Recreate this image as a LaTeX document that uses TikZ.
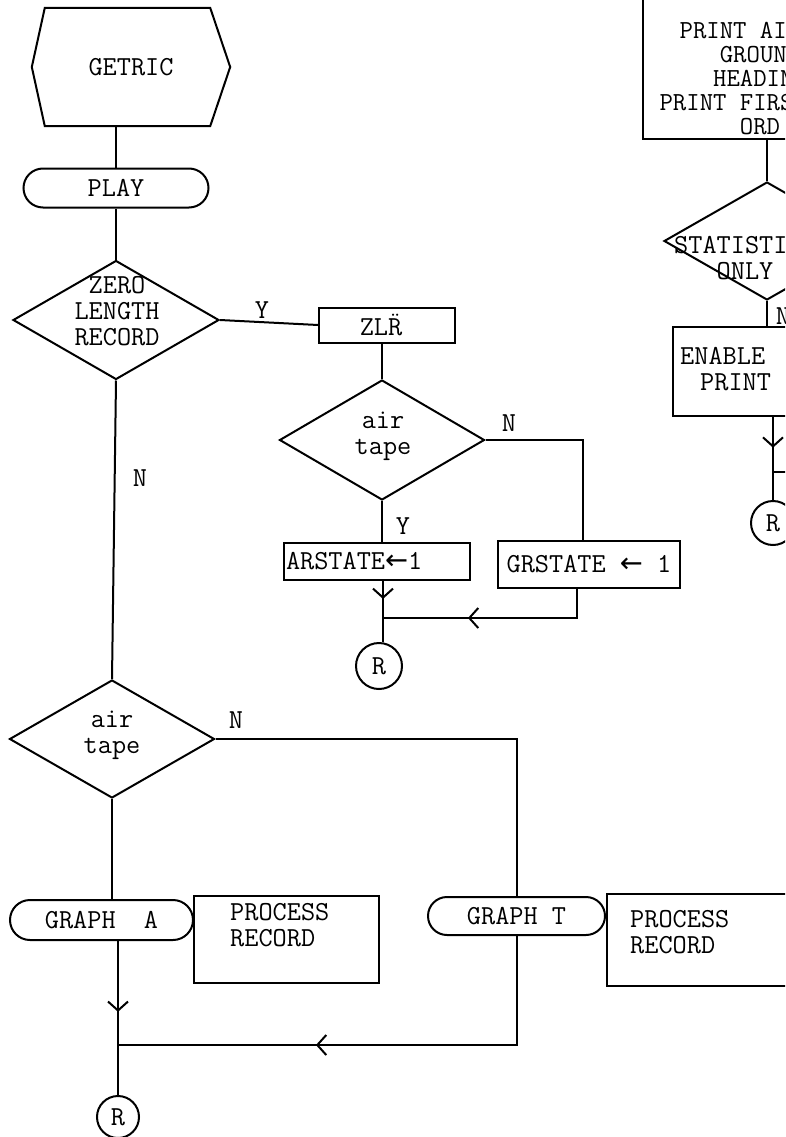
\documentclass[tikz,border=0pt]{standalone}
\usepackage{fontspec}
\newfontfamily\arrowfont{DejaVu Sans}
\usetikzlibrary{shapes.geometric,shapes.misc,arrows.meta,decorations.markings}

\newcommand{\asgn}{{\arrowfont ←}}

\tikzset{
  every node/.style={font=\ttfamily\fontsize{27.5}{26}\selectfont, inner sep=0pt},
  ln/.style={line width=2pt},
  procbox/.style={draw, line width=2pt, rectangle},
  termbox/.style={draw, line width=2pt, rounded rectangle},
  decbox/.style={draw, line width=2pt, diamond, inner sep=0pt},
  connbox/.style={draw, line width=2pt, circle},
  barb/.style={postaction={decorate}, decoration={markings,
      mark=at position #1 with {\arrow{Straight Barb[length=9pt,width=20pt,line width=2pt]}}}},
}

\begin{document}
\begin{tikzpicture}[x=1pt,y=-1pt]
\useasboundingbox (0,0) rectangle (785,1137);
\clip (0,0) rectangle (785,1137);
\fill[white] (0,0) rectangle (785,1137);

% ---------------- left column: entry and zero-length test
\node[minimum width=198pt, minimum height=118pt] (getric) at (131,67) {GETRIC};
\draw[ln] (getric.west) -- ([xshift=13pt]getric.north west)
  -- ([xshift=-20pt]getric.north east) -- (getric.east)
  -- ([xshift=-20pt]getric.south east) -- ([xshift=13pt]getric.south west) -- cycle;

\node[termbox, minimum width=185pt, minimum height=39pt] (play) at (116,188) {PLAY};
\node[decbox, minimum width=206pt, minimum height=119pt] (zero) at (116,320) {};
\node[align=center] (zerotxt) at (117,311) {ZERO\\LENGTH\\RECORD};

\draw[ln] (play.north) -- (play.north |- getric.south);
\draw[ln] (play.south) -- (zero.north);

% ---------------- zero-length record branch
\node[procbox, minimum width=136pt, minimum height=35pt] (zlr) at (387,325) {ZL\accent"A8 R\hspace*{12pt}};
\node (ylab1) at (262,310) {Y};
\draw[ln] (zero.east) -- (zlr.west);

\node[decbox, minimum width=205pt, minimum height=120pt] (air1) at (382,440) {};
\node[align=center] (air1txt) at (383,436) {air\\tape};
\draw[ln] (air1.north) -- (air1.north |- zlr.south);

\node[procbox, minimum width=186pt, minimum height=37pt, text width=182pt, align=left] (ars) at (377,561) {ARSTATE\asgn1};
\node[procbox, minimum width=182pt, minimum height=47pt] (grs) at (589,564) {GRSTATE \asgn{} 1};
\node (ylab2) at (403,526) {Y};
\node (nlab1) at (509,423) {N};
\draw[ln] (air1.south) -- (air1.south |- ars.north);
\draw[ln] (air1.east) -| ([xshift=-6pt]grs.north);

\node[connbox, minimum size=46pt] (r1) at (379,666) {R};
\coordinate (j1) at (383,618);
\draw[ln, barb=0.3] ([xshift=6pt]ars.south) -- ([xshift=6pt]ars.south |- r1.north);
\draw[ln, barb=0.62] ([xshift=-12pt]grs.south) |- (j1);

% ---------------- main column: tape type test
\node[decbox, minimum width=205pt, minimum height=118pt] (air2) at (112,739) {};
\node[align=center] (air2txt) at (112,735) {air\\tape};
\node (nlab2) at (140,478) {N};
\node (nlab3) at (236,720) {N};
\draw[ln] (zero.south) -- (air2.north);

\node[termbox, minimum width=183pt, minimum height=40pt] (grapha) at (101.5,920) {GRAPH~~A};
\node[procbox, minimum width=185pt, minimum height=87pt, anchor=north west] (proca) at (193,895) {};
\node[align=left, anchor=west] (procatxt) at (230,925) {PROCESS\\RECORD};

\node[termbox, minimum width=177pt, minimum height=38pt] (grapht) at (516.5,916) {GRAPH T};
\node[procbox, minimum width=200pt, minimum height=92pt, anchor=north west] (proct) at (606,893) {};
\node[align=left, anchor=west] (procttxt) at (630,932) {PROCESS\\RECORD};

\draw[ln] (air2.south) -- (air2.south |- grapha.north);
\draw[ln] (air2.east) -| (grapht.north);

\node[connbox, minimum size=42pt] (r3) at (118,1117) {R};
\coordinate (j2) at (118,1045);
\draw[ln, barb=0.46] (grapha.south -| r3.north) -- (r3.north);
\draw[ln, barb=0.61] (grapht.south) |- (j2);

% ---------------- right column: heading and statistics test
\node[procbox, minimum width=250pt, minimum height=180pt, anchor=south west] (prt) at (642,140) {};
\node[align=center, font=\ttfamily\fontsize{26}{24}\selectfont] (prttxt) at (760,79)
  {PRINT AIR OR\\GROUND\\HEADING\\PRINT FIRST REC\\ORD};

\node[decbox, minimum width=206pt, minimum height=118pt] (stat) at (767,241) {};
\node[align=center] (stattxt) at (745,258) {STATISTICS\\ONLY};
\draw[ln] (stat.north |- prt.south) -- (stat.north);

\node[procbox, minimum width=200pt, minimum height=89pt, anchor=north west] (enable) at (672,326) {};
\node[align=left, anchor=west] (enabletxt) at (680,369) {ENABLE\\\hspace*{20pt}PRINT};
\node (nlab4) at (783,316) {N};
\draw[ln] (stat.south) -- (stat.south |- enable.north);

\node[connbox, minimum size=44pt] (r2) at (773,523) {R};
\coordinate (rin) at (800,472);
\draw[ln, barb=0.37] (enable.south -| r2.north) -- (r2.north);
\draw[ln] (rin) -- (rin -| r2.north);
\end{tikzpicture}
\end{document}
